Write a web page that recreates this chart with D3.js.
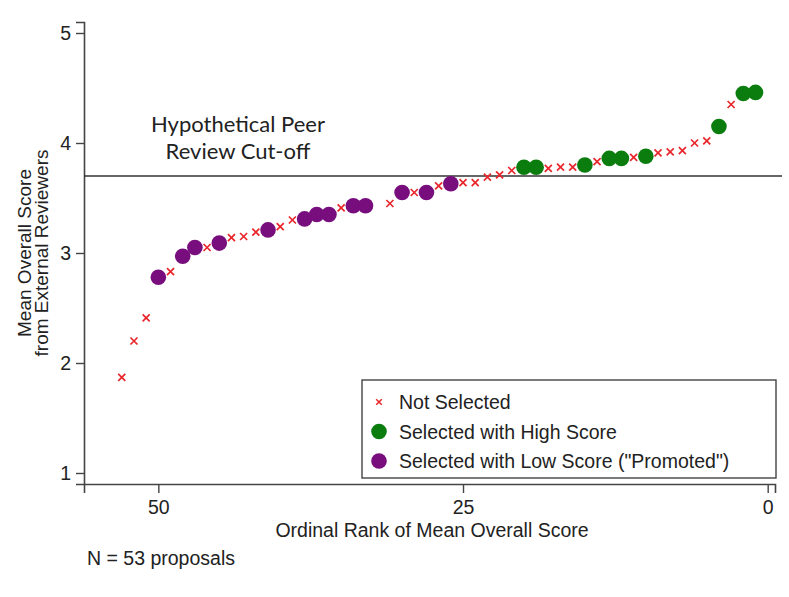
<!DOCTYPE html>
<html>
<head>
<meta charset="utf-8">
<script src="https://cdn.jsdelivr.net/npm/d3@7"></script>
<style>
  body { margin: 0; background: #fff; }
  text { font-family: "Liberation Sans", Arial, sans-serif; fill: #222; }
</style>
</head>
<body>
<script>
// rank (ordinal, 53 = lowest) and mean overall score, per group
const notSelectedRank = [53, 52, 51, 49, 46, 44, 43, 42, 40, 39, 35, 31, 29, 27, 25, 24, 23, 22, 21, 18, 17, 16, 14, 11, 9, 8, 7, 6, 5, 3];
const notSelectedScore = [1.87, 2.20, 2.41, 2.83, 3.05, 3.14, 3.15, 3.19, 3.24, 3.30, 3.41, 3.45, 3.55, 3.61, 3.64, 3.64, 3.69, 3.71, 3.75, 3.77, 3.78, 3.78, 3.83, 3.87, 3.91, 3.92, 3.93, 4.00, 4.02, 4.35];
const highRank = [20, 19, 15, 13, 12, 10, 4, 2, 1];
const highScore = [3.78, 3.78, 3.80, 3.86, 3.86, 3.88, 4.15, 4.45, 4.46];
const lowRank = [50, 48, 47, 45, 41, 38, 37, 36, 34, 33, 30, 28, 26];
const lowScore = [2.78, 2.97, 3.05, 3.09, 3.21, 3.31, 3.35, 3.35, 3.43, 3.43, 3.55, 3.55, 3.63];
const cutOff = 3.70;
const xTicks = [50, 25, 0];
const yTicks = [1, 2, 3, 4, 5];
const legendLabels = ["Not Selected", "Selected with High Score", "Selected with Low Score (\"Promoted\")"];

const red = "#e8262b", green = "#0b7d0e", purple = "#780d7d";
const fs = 19.5;

const svg = d3.select("body")
  .append("svg")
  .attr("width", 789)
  .attr("height", 597);

const x = d3.scaleLinear().domain([56.1, -0.6]).range([84, 775]);
const y = d3.scaleLinear().domain([0.9, 5.1]).range([484, 22]);

// axes
const yAxis = svg.append("g")
  .attr("transform", "translate(84,0)")
  .call(d3.axisLeft(y).tickValues(yTicks).tickSize(8).tickPadding(5).tickFormat(d3.format("d")));
const xAxis = svg.append("g")
  .attr("transform", "translate(0,484)")
  .call(d3.axisBottom(x).tickValues(xTicks).tickSize(9).tickPadding(7).tickFormat(d3.format("d")));

[yAxis, xAxis].forEach(g => {
  g.select(".domain").attr("stroke", "#444").attr("stroke-width", 1.6);
  g.selectAll(".tick line").attr("stroke", "#444").attr("stroke-width", 1.4);
  g.selectAll(".tick text").attr("font-size", fs).attr("fill", "#222")
    .attr("font-family", "Liberation Sans, Arial, sans-serif");
});

svg.append("text")
  .attr("x", 432).attr("y", 537)
  .attr("text-anchor", "middle")
  .attr("font-size", fs)
  .text("Ordinal Rank of Mean Overall Score");

svg.append("text")
  .attr("transform", "translate(31,253) rotate(-90)")
  .attr("text-anchor", "middle")
  .attr("font-size", 19)
  .selectAll("tspan")
  .data(["Mean Overall Score", "from External Reviewers"])
  .join("tspan")
  .attr("x", 0)
  .attr("dy", (d, i) => i === 0 ? 0 : 17)
  .text(d => d);

svg.append("text")
  .attr("x", 87).attr("y", 565)
  .attr("font-size", fs)
  .text("N = 53 proposals");

// cut-off line and note
svg.append("line")
  .attr("x1", 84).attr("x2", 782)
  .attr("y1", y(cutOff)).attr("y2", y(cutOff))
  .attr("stroke", "#333").attr("stroke-width", 1.6);

svg.append("text")
  .attr("text-anchor", "middle")
  .attr("font-size", 22)
  .style("font-family", "Lato, 'Open Sans', sans-serif")
  .selectAll("tspan")
  .data(["Hypothetical Peer", "Review Cut-off"])
  .join("tspan")
  .attr("x", 238)
  .attr("y", (d, i) => 132 + i * 27)
  .text(d => d);

// points
const cross = d3.symbol().type(d3.symbolTimes).size(34);

svg.append("g")
  .selectAll("path")
  .data(d3.zip(notSelectedRank, notSelectedScore))
  .join("path")
  .attr("transform", d => `translate(${x(d[0])},${y(d[1])})`)
  .attr("d", cross)
  .attr("fill", "none")
  .attr("stroke", red)
  .attr("stroke-width", 1.7);

svg.append("g")
  .selectAll("circle")
  .data(d3.zip(lowRank, lowScore))
  .join("circle")
  .attr("cx", d => x(d[0]))
  .attr("cy", d => y(d[1]))
  .attr("r", 7.8)
  .attr("fill", purple);

svg.append("g")
  .selectAll("circle")
  .data(d3.zip(highRank, highScore))
  .join("circle")
  .attr("cx", d => x(d[0]))
  .attr("cy", d => y(d[1]))
  .attr("r", 7.8)
  .attr("fill", green);

// legend
const legend = svg.append("g").attr("transform", "translate(362,380)");
legend.append("rect")
  .attr("width", 414).attr("height", 98)
  .attr("fill", "#fff").attr("stroke", "#444").attr("stroke-width", 1.4);

const rows = legend.selectAll("g.row")
  .data(legendLabels)
  .join("g")
  .attr("class", "row")
  .attr("transform", (d, i) => `translate(0,${22 + i * 29.5})`);

rows.append("text")
  .attr("x", 37).attr("y", 7)
  .attr("font-size", fs)
  .text(d => d);

rows.filter((d, i) => i === 0).append("path")
  .attr("transform", "translate(17,0)")
  .attr("d", d3.symbol().type(d3.symbolTimes).size(22))
  .attr("fill", "none").attr("stroke", red).attr("stroke-width", 1.5);

rows.filter((d, i) => i > 0).append("circle")
  .attr("cx", 17).attr("r", 7.8)
  .attr("fill", (d, i) => i === 0 ? green : purple);
</script>
</body>
</html>
